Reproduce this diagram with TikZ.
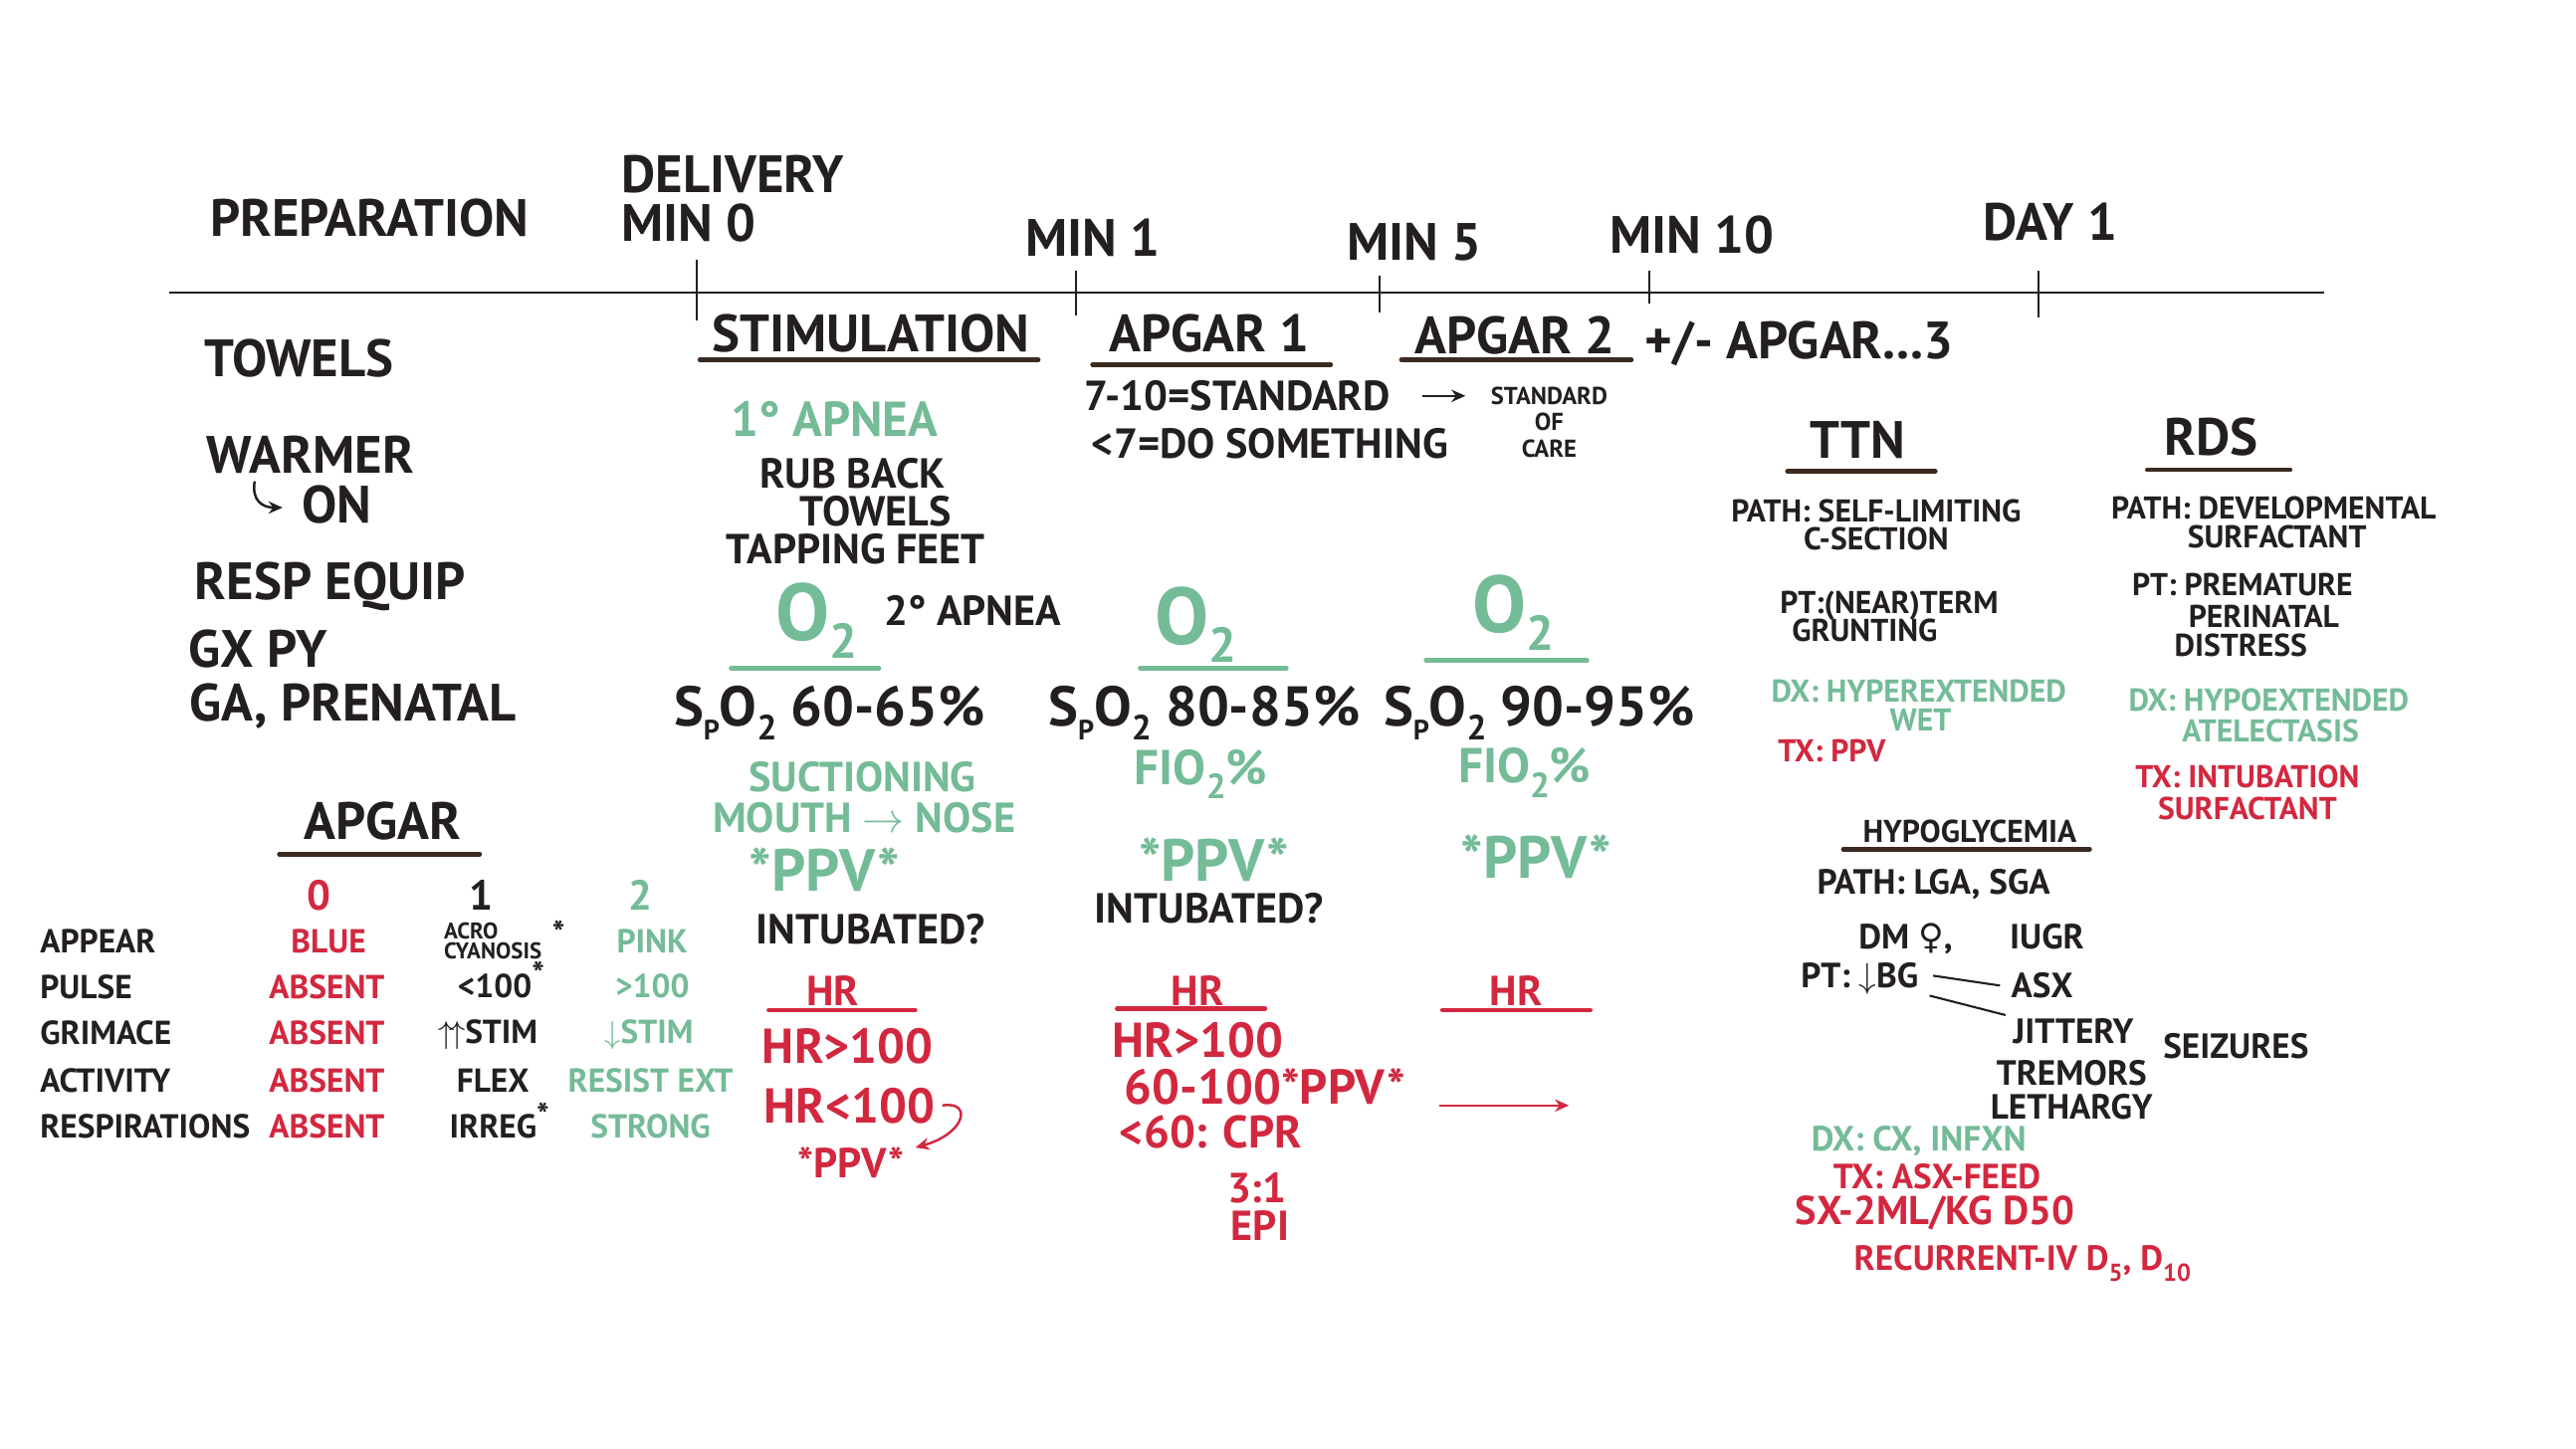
\documentclass[tikz,border=0pt]{standalone}
\usepackage{fontspec}
\setmainfont{PT Sans}
\newfontfamily\dejavu{DejaVu Sans}
\usetikzlibrary{arrows.meta,calc}
\definecolor{ink}{HTML}{231F20}
\definecolor{mint}{HTML}{74BB97}
\definecolor{crim}{HTML}{D2283F}
\definecolor{ulbrown}{HTML}{3B2A20}
\tikzset{
  txtm/.style={inner sep=0pt, anchor=center, text=ink},
  txt/.style={txtm, text depth=0pt},
  grn/.style={txt, text=mint},
  rd/.style={txt, text=crim},
  hd/.style={txt, font=\fontsize{15}{17}\selectfont\bfseries, text height=10.5pt},
  fsXL/.style={font=\fontsize{16}{18}\selectfont\bfseries, text height=11.2pt},
  fsL/.style={font=\fontsize{14}{15}\selectfont\bfseries, text height=9.8pt},
  fsL2/.style={font=\fontsize{13}{14}\selectfont\bfseries, text height=9.1pt},
  fsPPV/.style={font=\fontsize{17}{17}\selectfont\bfseries, text height=11.9pt},
  fsM/.style={font=\fontsize{12}{12.5}\selectfont\bfseries, text height=8.4pt},
  fsMs/.style={font=\fontsize{11.5}{12}\selectfont\bfseries, text height=8pt},
  fsS/.style={font=\fontsize{9}{8.2}\selectfont\bfseries, text height=6.3pt},
  fsTab/.style={font=\fontsize{9.5}{9}\selectfont\bfseries, text height=6.65pt},
  fsT/.style={font=\fontsize{10}{10}\selectfont\bfseries, text height=7pt},
  fsXS/.style={font=\fontsize{6.5}{5.6}\selectfont\bfseries},
  oxy/.style={grn, font=\fontsize{23}{23}\selectfont\bfseries, text height=16.1pt},
  ulk/.style={draw=ulbrown, line width=1.3pt, line cap=round},
  ulg/.style={draw=mint, line width=1.3pt, line cap=round},
  ulr/.style={draw=crim, line width=1.3pt, line cap=round},
  tick/.style={draw=ink, line width=0.6pt},
  arr/.style={-{Stealth[length=4pt,width=3.5pt]}, line width=0.7pt},
}
\newcommand{\Otwo}{O\raisebox{-0.22em}{\fontsize{14}{14}\selectfont 2}}
\newcommand{\spo}{S\raisebox{-0.25em}{\fontsize{8}{8}\selectfont P}O\raisebox{-0.25em}{\fontsize{10}{10}\selectfont 2}}
\newcommand{\upstar}{\raisebox{0.35em}{*}}
\begin{document}
\begin{tikzpicture}[x=0.0165cm, y=-0.0165cm]
\useasboundingbox[fill=white] (0,0) rectangle (1568,882);

% ---------- timeline ----------
\coordinate (tlA) at (103,178);
\coordinate (tlB) at (1415,178);
\draw[tick] (tlA) -- (tlB);
\coordinate (t0a) at (424,158); \coordinate (t0b) at (424,195);
\coordinate (t1a) at (655,165); \coordinate (t1b) at (655,192);
\coordinate (t5a) at (840,168); \coordinate (t5b) at (840,190);
\coordinate (t10a) at (1004,165); \coordinate (t10b) at (1004,185);
\coordinate (td1a) at (1241,165); \coordinate (td1b) at (1241,193);
\draw[tick] (t0a) -- (t0b);
\draw[tick] (t1a) -- (t1b);
\draw[tick] (t5a) -- (t5b);
\draw[tick] (t10a) -- (t10b);
\draw[tick] (td1a) -- (td1b);

\node[hd] (prep) at (225,133) {PREPARATION};
\node[hd, anchor=west] (deliv) at (378,106) {DELIVERY};
\node[hd, anchor=west] (min0) at (378,136) {MIN 0};
\node[hd] (min1) at (665,145) {MIN 1};
\node[hd] (min5) at (861,147) {MIN 5};
\node[hd] (min10) at (1030,143) {MIN 10};
\node[hd] (day1) at (1248,135) {DAY 1};

% ---------- preparation ----------
\node[hd] (towels) at (182,218) {TOWELS};
\node[hd] (warmer) at (189,277) {WARMER};
\node[hd] (on) at (205,307) {ON};
\coordinate (hk1) at (155,293);
\coordinate (hk2) at (172,309);
\draw[arr, draw=ink] (hk1) .. controls (153,305) and (160,309) .. (hk2);
\node[hd] (resp) at (201,354) {RESP EQUIP};
\node[hd] (gxpy) at (157,395) {GX PY};
\node[hd] (ga) at (215,428) {GA, PRENATAL};

% ---------- stimulation ----------
\node[hd] (stim) at (530,203) {STIMULATION};
\draw[ulk] (426,219) -- (632,219);
\node[grn, fsL] (apnea1) at (508,255) {1° APNEA};
\node[txt, fsM] (rub) at (519,288) {RUB BACK};
\node[txt, fsM] (tow2) at (533,311) {TOWELS};
\node[txt, fsM] (tap) at (521,334) {TAPPING FEET};
\node[oxy] (o2a) at (497,373) {\Otwo};
\draw[ulg] (445,407) -- (535,407);
\node[txt, fsM] (apnea2) at (592,372) {2° APNEA};
\node[txt, fsXL] (spo2a) at (505,430) {\spo\ 60-65\%};
\node[grn, fsM] (suct) at (525,473) {SUCTIONING};
\node[grn, fsM] (mouth) at (526,498) {MOUTH $\rightarrow$ NOSE};
\node[grn, fsPPV] (ppvg1) at (502,530) {*PPV*};
\node[txt, fsM] (intub1) at (530,566) {INTUBATED?};
\node[rd, fsM] (hr1) at (507,603) {HR};
\draw[ulr] (468,615) -- (557,615);
\node[rd, fsL] (hrgt1) at (516,637) {HR>100};
\node[rd, fsL] (hrlt1) at (517,673) {HR<100};
\node[rd, fsM] (ppvr1) at (518,708) {*PPV*};
\draw[arr, draw=crim] ([xshift=2pt]hrlt1.east) .. controls (592,670) and (588,690) .. ([xshift=3pt]ppvr1.north east);

% ---------- APGAR 1 ----------
\node[hd] (apg1) at (736,203) {APGAR 1};
\draw[ulk] (665,222) -- (810,222);
\node[txt, fsM] (std) at (753,241) {7-10=STANDARD};
\node[txtm, align=center, font=\fontsize{7}{7.6}\selectfont\bfseries] (soc) at (943,257) {STANDARD\\OF\\CARE};
\coordinate (sa1) at (866,241);
\coordinate (sa2) at (892,241);
\draw[arr, draw=ink] (sa1) -- (sa2);
\node[txt, fsM] (dosom) at (773,270) {<7=DO SOMETHING};
\node[oxy] (o2b) at (728,375) {\Otwo};
\draw[ulg] (694,407) -- (783,407);
\node[txt, fsXL] (spo2b) at (733,430) {\spo\ 80-85\%};
\node[grn, fsL] (fio2b) at (731,467) {FIO\raisebox{-0.3em}{\fontsize{10}{10}\selectfont 2}\%};
\node[grn, fsPPV] (ppvg2) at (739,524) {*PPV*};
\node[txt, fsM] (intub2) at (736,553) {INTUBATED?};
\node[rd, fsM] (hr2) at (729,603) {HR};
\draw[ulr] (680,614) -- (770,614);
\node[rd, fsL] (hrgt2) at (729,633) {HR>100};
\node[rd, fsL] (hr60) at (770,662) {60-100*PPV*};
\node[rd, fsL2] (cpr) at (737,689) {<60: CPR};
\node[rd, fsM] (r31) at (765,723) {3:1};
\node[rd, fsM] (epi) at (767,746) {EPI};

% ---------- APGAR 2 ----------
\node[hd] (apg2) at (922,204) {APGAR 2};
\draw[ulk] (853,219) -- (993,219);
\node[hd] (apg3) at (1095,207) {+/- APGAR...3};
\node[oxy] (o2c) at (921,368) {\Otwo};
\draw[ulg] (868,402) -- (966,402);
\node[txt, fsXL] (spo2c) at (937,430) {\spo\ 90-95\%};
\node[grn, fsL] (fio2c) at (928,466) {FIO\raisebox{-0.3em}{\fontsize{10}{10}\selectfont 2}\%};
\node[grn, fsPPV] (ppvg3) at (935,522) {*PPV*};
\node[rd, fsM] (hr3) at (923,603) {HR};
\draw[ulr] (878,615) -- (968,615);
\coordinate (ra1) at (876,673);
\coordinate (ra2) at (955,673);
\draw[arr, draw=crim] (ra1) -- (ra2);

% ---------- TTN ----------
\node[hd] (ttn) at (1131,268) {TTN};
\draw[ulk] (1088,287) -- (1178,287);
\node[txt, fsS] (ttn1) at (1142,311) {PATH: SELF-LIMITING};
\node[txt, fsS] (ttn2) at (1142,328) {C-SECTION};
\node[txt, fsS] (ttn3) at (1150,367) {PT:(NEAR)TERM};
\node[txt, fsS] (ttn4) at (1135,384) {GRUNTING};
\node[grn, fsS] (ttn5) at (1168,421) {DX: HYPEREXTENDED};
\node[grn, fsS] (ttn6) at (1169,438) {WET};
\node[rd, fsS] (ttn7) at (1115,457) {TX: PPV};

% ---------- RDS ----------
\node[hd] (rds) at (1346,266) {RDS};
\draw[ulk] (1307,286) -- (1394,286);
\node[txt, fsS] (rds1) at (1384,309) {PATH: DEVELOPMENTAL};
\node[txt, fsS] (rds2) at (1386,327) {SURFACTANT};
\node[txt, fsS] (rds3) at (1365,356) {PT: PREMATURE};
\node[txt, fsS] (rds4) at (1378,375) {PERINATAL};
\node[txt, fsS] (rds5) at (1364,393) {DISTRESS};
\node[grn, fsS] (rds6) at (1381,426) {DX: HYPOEXTENDED};
\node[grn, fsS] (rds7) at (1382,445) {ATELECTASIS};
\node[rd, fsS] (rds8) at (1368,473) {TX: INTUBATION};
\node[rd, fsS] (rds9) at (1368,492) {SURFACTANT};

% ---------- hypoglycemia ----------
\node[txt, fsS] (hypo) at (1199,506) {HYPOGLYCEMIA};
\draw[ulk] (1122,517) -- (1272,517);
\node[txt, fsT] (hp1) at (1177,537) {PATH: LGA, SGA};
\node[txt, fsT] (dm) at (1160,570) {DM {\dejavu\bfseries ♀},};
\node[txt, fsT] (iugr) at (1246,570) {IUGR};
\node[txt, fsT] (bg) at (1132,594) {PT: $\downarrow$BG};
\node[txt, fsT] (asx) at (1243,600) {ASX};
\node[txt, fsT] (jit) at (1262,628) {JITTERY};
\node[txt, fsT] (seiz) at (1361,637) {SEIZURES};
\node[txt, fsT] (trem) at (1261,653) {TREMORS};
\node[txt, fsT] (leth) at (1261,674) {LETHARGY};
\draw[ink, line width=0.6pt] ([xshift=4pt]bg.east) -- ([xshift=-3pt]asx.west);
\draw[ink, line width=0.6pt] ([xshift=3pt,yshift=-2pt]bg.south east) -- ([xshift=-2pt,yshift=1pt]jit.north west);
\node[grn, fsT] (hdx) at (1168,693) {DX: CX, INFXN};
\node[rd, fsT] (htx) at (1179,716) {TX: ASX-FEED};
\node[rd, fsMs] (hsx) at (1178,737) {SX-2ML/KG D50};
\node[rd, fsT] (hrec) at (1231,766) {RECURRENT-IV D\raisebox{-0.3em}{\fontsize{7}{7}\selectfont 5}, D\raisebox{-0.3em}{\fontsize{7}{7}\selectfont 10}};

% ---------- APGAR table ----------
\node[hd] (apgt) at (233,500) {APGAR};
\draw[ulk] (170,520) -- (292,520);
\node[rd, fsM] (c0) at (194,545) {0};
\node[txt, fsM] (c1) at (293,545) {1};
\node[grn, fsM] (c2) at (390,545) {2};
\node[txt, fsTab, anchor=west] (rA) at (24,573) {APPEAR};
\node[txt, fsTab, anchor=west] (rP) at (24,601) {PULSE};
\node[txt, fsTab, anchor=west] (rG) at (24,629) {GRIMACE};
\node[txt, fsTab, anchor=west] (rAc) at (24,658) {ACTIVITY};
\node[txt, fsTab, anchor=west] (rR) at (24,686) {RESPIRATIONS};
\node[rd, fsTab] (a0) at (200,573) {BLUE};
\node[rd, fsTab] (p0) at (199,601) {ABSENT};
\node[rd, fsTab] (g0) at (199,629) {ABSENT};
\node[rd, fsTab] (ac0) at (199,658) {ABSENT};
\node[rd, fsTab] (re0) at (199,686) {ABSENT};
\node[txtm, fsXS, align=left] (a1) at (300,573) {ACRO\\CYANOSIS};
\node[txt, fsTab] (a1s) at (340,568) {*};
\node[txt, fsTab] (p1) at (305,600) {<100\upstar};
\node[txt, fsTab] (g1) at (297,628) {$\uparrow\!\uparrow$STIM};
\node[txt, fsTab] (ac1) at (300,658) {FLEX};
\node[txt, fsTab] (re1) at (304,686) {IRREG\upstar};
\node[grn, fsTab] (a2) at (397,573) {PINK};
\node[grn, fsTab] (p2) at (397,600) {>100};
\node[grn, fsTab] (g2) at (395,628) {$\downarrow$STIM};
\node[grn, fsTab] (ac2) at (396,658) {RESIST EXT};
\node[grn, fsTab] (re2) at (396,686) {STRONG};
\end{tikzpicture}
\end{document}
